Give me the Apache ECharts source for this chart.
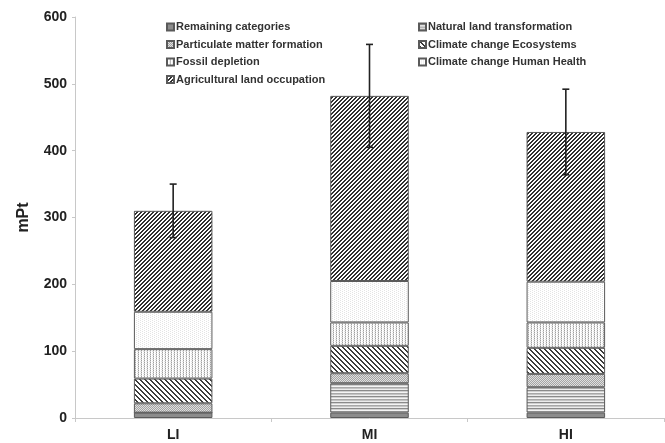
<!DOCTYPE html>
<html>
<head>
<meta charset="utf-8">
<script src="https://cdn.jsdelivr.net/npm/echarts@6/dist/echarts.min.js"></script>
<style>
  html, body { margin: 0; padding: 0; background: #fff; }
  #chart { width: 665px; height: 443px; }
</style>
</head>
<body>
<div id="chart"></div>
<script>
// Damage scores (mPt) per intensity level, stacked by impact category
const categories = ['LI', 'MI', 'HI'];
const remaining      = [8, 8, 8];
const naturalLand    = [0, 44, 38];
const particulate    = [14, 15, 20];
const climateEco     = [37, 41, 39];
const fossil         = [44, 35, 38];
const climateHealth  = [56, 62, 61];
const agricultural   = [151, 277, 224];
// half-length of the error bar on each total
const totalError     = [40, 77, 64];
const yTicks = [0, 100, 200, 300, 400, 500, 600];

const FONT = '"Liberation Sans", Arial, sans-serif';

// Small repeating tiles used as fills for each stacked segment
function tile(w, h, painter) {
  const c = document.createElement('canvas');
  c.width = w; c.height = h;
  const ctx = c.getContext('2d');
  ctx.fillStyle = '#ffffff';
  ctx.fillRect(0, 0, w, h);
  for (let y = 0; y < h; y++) {
    for (let x = 0; x < w; x++) {
      const col = painter(x, y);
      if (col) { ctx.fillStyle = col; ctx.fillRect(x, y, 1, 1); }
    }
  }
  return { image: c, repeat: 'repeat' };
}

const fills = {
  remaining: '#8c8c8c',
  naturalLand: tile(4, 6, (x, y) => ['#8a8a8a', '#d0d0d0', '#f4f4f4', '#a8a8a8', '#c4c4c4', '#ececec'][y]),
  particulate: tile(2, 2, (x, y) => ((x + y) % 2 ? '#a4a4a4' : '#e0e0e0')),
  climateEco: tile(5, 5, (x, y) => ((((x - y) % 5) + 5) % 5 < 2 ? '#3c3c3c' : null)),
  fossil: tile(3, 2, (x, y) => (x === 0 ? (y === 0 ? '#a0a0a0' : '#d4d4d4') : (y === 1 && x === 2 ? '#e2e2e2' : null))),
  climateHealth: tile(4, 4, (x, y) => ((x + 2 * y) % 4 === 0 ? '#e4e4e4' : null)),
  agricultural: tile(4, 4, (x, y) => ((x + y) % 4 < 2 ? '#303030' : null))
};

const layers = [
  ['Remaining categories', remaining, fills.remaining],
  ['Natural land transformation', naturalLand, fills.naturalLand],
  ['Particulate matter formation', particulate, fills.particulate],
  ['Climate change Ecosystems', climateEco, fills.climateEco],
  ['Fossil depletion', fossil, fills.fossil],
  ['Climate change Human Health', climateHealth, fills.climateHealth],
  ['Agricultural land occupation', agricultural, fills.agricultural]
];

const barSeries = layers.map(([name, values, fill]) => ({
  name: name,
  type: 'bar',
  stack: 'total',
  barWidth: '40%',
  data: values,
  itemStyle: { color: fill, borderColor: '#5a5a5a', borderWidth: 1 },
  emphasis: { disabled: true }
}));

// Totals on top of the stacks, with their error range
const totals = categories.map((_, i) => layers.reduce((s, l) => s + l[1][i], 0));
const errorData = categories.map((_, i) => [i, totals[i] - totalError[i], totals[i] + totalError[i]]);

const errorSeries = {
  name: 'error',
  type: 'custom',
  z: 10,
  data: errorData,
  renderItem: function (params, api) {
    const lo = api.coord([api.value(0), api.value(1)]);
    const hi = api.coord([api.value(0), api.value(2)]);
    const cap = 3.5;
    const style = { stroke: '#222', lineWidth: 1.6 };
    return {
      type: 'group',
      children: [
        { type: 'line', shape: { x1: hi[0], y1: hi[1], x2: lo[0], y2: lo[1] }, style: style },
        { type: 'line', shape: { x1: hi[0] - cap, y1: hi[1], x2: hi[0] + cap, y2: hi[1] }, style: style },
        { type: 'line', shape: { x1: lo[0] - cap, y1: lo[1], x2: lo[0] + cap, y2: lo[1] }, style: style }
      ]
    };
  }
};

const legendText = {
  fontFamily: FONT, fontSize: 11, fontWeight: 'bold', color: '#333', lineHeight: 12,
  padding: [0, 0, 0, -3]
};
const legendCommon = {
  orient: 'vertical',
  icon: 'rect',
  itemWidth: 7,
  itemHeight: 7,
  itemGap: 5.5,
  top: 16,
  selectedMode: false,
  textStyle: legendText
};

const chart = echarts.init(document.getElementById('chart'), null, { renderer: 'canvas' });
chart.setOption({
  animation: false,
  backgroundColor: '#ffffff',
  grid: { left: 75, right: 1, top: 17, bottom: 25 },
  legend: [
    Object.assign({}, legendCommon, {
      left: 161,
      data: ['Remaining categories', 'Particulate matter formation', 'Fossil depletion', 'Agricultural land occupation']
    }),
    Object.assign({}, legendCommon, {
      left: 413,
      data: ['Natural land transformation', 'Climate change Ecosystems', 'Climate change Human Health']
    })
  ],
  xAxis: {
    type: 'category',
    data: categories,
    axisLine: { lineStyle: { color: '#c8c8c8' } },
    axisTick: { show: true, length: 4, lineStyle: { color: '#c8c8c8' } },
    axisLabel: { fontFamily: FONT, fontSize: 14, fontWeight: 'bold', color: '#222', margin: 10 }
  },
  yAxis: {
    type: 'value',
    min: yTicks[0],
    max: yTicks[yTicks.length - 1],
    interval: 100,
    name: 'mPt',
    nameLocation: 'middle',
    nameGap: 43,
    nameTextStyle: { fontFamily: FONT, fontSize: 16, fontWeight: 'bold', color: '#222' },
    axisLine: { show: true, lineStyle: { color: '#c8c8c8' } },
    axisTick: { show: true, length: 3, lineStyle: { color: '#c8c8c8' } },
    splitLine: { show: false },
    axisLabel: { fontFamily: FONT, fontSize: 14, fontWeight: 'bold', color: '#222', margin: 8 }
  },
  series: barSeries.concat([errorSeries])
});
</script>
</body>
</html>
